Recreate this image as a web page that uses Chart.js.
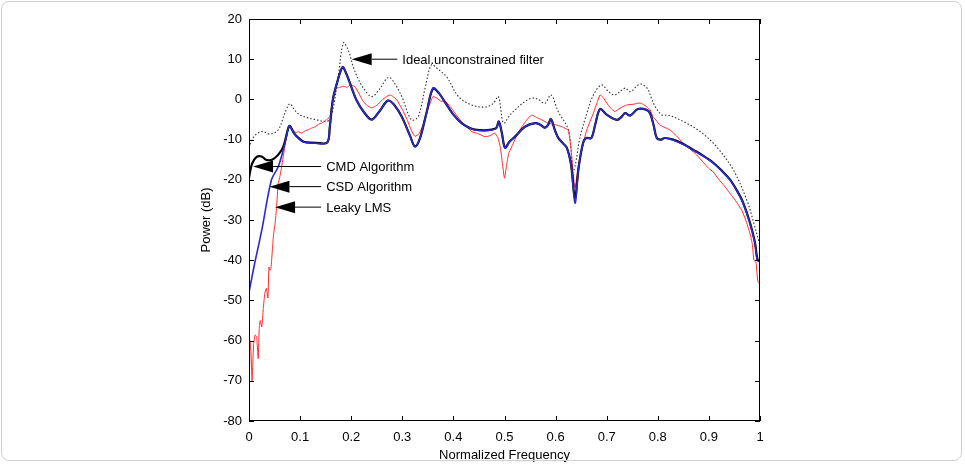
<!DOCTYPE html>
<html>
<head>
<meta charset="utf-8">
<script src="https://cdn.jsdelivr.net/npm/chart.js@4.4.1/dist/chart.umd.min.js"></script>
<style>
  body { margin: 0; background: #fff; }
  #wrap { position: relative; width: 965px; height: 464px; }
  #frame { position: absolute; left: 1px; top: 1px; width: 961px; height: 460px;
           border: 1px solid #cfcfcf; border-radius: 8px; box-sizing: border-box; pointer-events: none; }
</style>
</head>
<body>
<div id="wrap">
  <canvas id="mychart" width="965" height="464"></canvas>
  <div id="frame"></div>
</div>
<script>
// 軸の目盛
const xTicks = [0, 0.1, 0.2, 0.3, 0.4, 0.5, 0.6, 0.7, 0.8, 0.9, 1];
const yTicks = [-80, -70, -60, -50, -40, -30, -20, -10, 0, 10, 20];

// Ideal unconstrained filter (点線)
const idealF = [0, 0.01, 0.025, 0.041, 0.057, 0.07, 0.08, 0.09, 0.1, 0.115, 0.13, 0.149, 0.158, 0.165, 0.175, 0.185, 0.195, 0.204, 0.214, 0.224, 0.24, 0.255, 0.273, 0.285, 0.299, 0.318, 0.331, 0.345, 0.357, 0.37, 0.387, 0.41, 0.436, 0.462, 0.478, 0.488, 0.498, 0.51, 0.521, 0.537, 0.553, 0.566, 0.579, 0.591, 0.605, 0.625, 0.635, 0.648, 0.661, 0.674, 0.69, 0.703, 0.716, 0.736, 0.746, 0.765, 0.779, 0.787, 0.795, 0.808, 0.82, 0.85, 0.883, 0.915, 0.948, 0.974, 0.99, 0.997, 1];
const ideal = [-12, -9.2, -8, -8.6, -7.6, -3.5, -1.1, -2.8, -3.9, -4.6, -5, -5.5, -5, -2, 6, 14.1, 12, 8.1, 5, 2.8, 0.7, 2.5, 5.5, 4, 0.7, -5.1, -4.3, 3, 8.6, 7.5, 5.6, 0.7, -1.4, -1.9, -1, 0.7, -5.9, -4, -2.6, -0.8, 0.3, 0, -1, 1.1, -3, -7.6, -17.6, -9.3, -3.5, 1.1, 3.6, 2, 1.1, 2.8, 1.9, 3.8, 2.8, 0.5, -1.8, -3.9, -3.9, -5.5, -8, -11.8, -17.6, -25, -31.7, -35, -36];

// CSD Algorithm (青)
const csdF = [0, 0.01, 0.025, 0.044, 0.057, 0.067, 0.077, 0.08, 0.088, 0.096, 0.105, 0.113, 0.13, 0.153, 0.158, 0.164, 0.172, 0.183, 0.19, 0.2, 0.21, 0.225, 0.24, 0.255, 0.272, 0.285, 0.299, 0.315, 0.325, 0.335, 0.348, 0.36, 0.372, 0.383, 0.4, 0.416, 0.43, 0.442, 0.46, 0.475, 0.484, 0.489, 0.495, 0.501, 0.51, 0.521, 0.54, 0.56, 0.57, 0.579, 0.585, 0.591, 0.598, 0.605, 0.615, 0.622, 0.63, 0.638, 0.645, 0.654, 0.66, 0.67, 0.678, 0.687, 0.7, 0.72, 0.73, 0.736, 0.746, 0.761, 0.778, 0.785, 0.792, 0.798, 0.806, 0.814, 0.83, 0.85, 0.869, 0.89, 0.908, 0.925, 0.941, 0.955, 0.967, 0.98, 0.99, 0.995, 1];
const csd = [-48, -41.5, -32.5, -20, -16.8, -12.6, -7.1, -6.6, -8.5, -9.6, -10.5, -10.8, -10.9, -10.8, -7, -0.1, 4, 8.1, 6.5, 3.2, -0.1, -3.2, -5.1, -3, -0.3, -1.5, -4.3, -9, -11.8, -9.5, -3, 2.8, 1.5, -0.6, -3.8, -5.9, -7, -7.6, -7.8, -7.6, -7.2, -5.5, -8.5, -12.1, -10.5, -9.3, -6.8, -5.9, -6.3, -7.1, -6.5, -4.9, -7.5, -9.6, -11, -12.1, -16, -25.8, -17, -10.8, -9.6, -9.6, -6, -2.4, -3.8, -5.1, -4.2, -3.4, -4.1, -2.4, -2.6, -3.5, -6.5, -9.6, -10.1, -9.6, -10.1, -11.2, -12.6, -14.2, -15.8, -17.8, -20, -22.8, -25.8, -30.7, -35.7, -40, -40.5];

// CMD Algorithm (黒)
const cmdF = [0, 0.006, 0.015, 0.025, 0.033, 0.045, 0.057, 0.067, 0.077, 0.08, 0.088, 0.096, 0.105, 0.113, 0.13, 0.153, 0.158, 0.164, 0.172, 0.183, 0.19, 0.2, 0.21, 0.225, 0.24, 0.255, 0.272, 0.285, 0.299, 0.315, 0.325, 0.335, 0.348, 0.36, 0.372, 0.383, 0.4, 0.416, 0.43, 0.442, 0.46, 0.475, 0.484, 0.489, 0.495, 0.501, 0.51, 0.521, 0.54, 0.56, 0.57, 0.579, 0.585, 0.591, 0.598, 0.605, 0.615, 0.622, 0.63, 0.638, 0.645, 0.654, 0.66, 0.67, 0.678, 0.687, 0.7, 0.72, 0.73, 0.736, 0.746, 0.761, 0.778, 0.785, 0.792, 0.798, 0.806, 0.814, 0.83, 0.85, 0.869, 0.89, 0.908, 0.925, 0.941, 0.955, 0.967, 0.98, 0.99, 0.995, 1];
const cmd = [-19.5, -16, -14.3, -14.2, -15, -15, -13.8, -11.8, -7.1, -6.6, -8.4, -9.5, -10.4, -10.7, -10.8, -10.7, -7, -0.1, 4, 8, 6.5, 3.2, -0.1, -3.2, -5, -3, -0.3, -1.5, -4.3, -9, -11.7, -9.5, -3, 2.7, 1.5, -0.6, -3.8, -5.9, -7, -7.5, -7.7, -7.5, -7.1, -5.5, -8.5, -12, -10.5, -9.2, -6.8, -5.9, -6.3, -7, -6.4, -4.9, -7.4, -9.5, -11, -12, -16, -24.5, -17, -10.7, -9.6, -9.6, -6, -2.4, -3.8, -5.1, -4.2, -3.4, -4, -2.4, -2.6, -3.5, -6.5, -9.6, -10, -9.6, -10, -11.1, -12.5, -14.1, -15.7, -17.7, -19.9, -22.7, -25.7, -30.5, -35.5, -39.8, -40.3];

// Leaky LMS (赤)
const lmsF = [0, 0.002, 0.004, 0.006, 0.009, 0.012, 0.015, 0.018, 0.02, 0.022, 0.025, 0.028, 0.031, 0.034, 0.037, 0.039, 0.041, 0.043, 0.046, 0.048, 0.051, 0.054, 0.057, 0.06, 0.064, 0.07, 0.077, 0.08, 0.086, 0.092, 0.096, 0.103, 0.11, 0.117, 0.123, 0.13, 0.136, 0.142, 0.15, 0.158, 0.163, 0.168, 0.172, 0.178, 0.185, 0.192, 0.198, 0.207, 0.215, 0.222, 0.23, 0.24, 0.25, 0.26, 0.268, 0.276, 0.282, 0.289, 0.3, 0.31, 0.318, 0.325, 0.333, 0.34, 0.35, 0.36, 0.368, 0.376, 0.383, 0.395, 0.41, 0.423, 0.436, 0.45, 0.462, 0.472, 0.481, 0.487, 0.492, 0.496, 0.5, 0.504, 0.508, 0.514, 0.524, 0.534, 0.543, 0.553, 0.563, 0.573, 0.585, 0.6, 0.612, 0.62, 0.625, 0.63, 0.634, 0.638, 0.644, 0.651, 0.661, 0.674, 0.682, 0.687, 0.693, 0.7, 0.708, 0.716, 0.726, 0.739, 0.752, 0.765, 0.772, 0.778, 0.785, 0.79, 0.798, 0.804, 0.814, 0.824, 0.836, 0.849, 0.862, 0.876, 0.89, 0.9, 0.908, 0.92, 0.93, 0.941, 0.952, 0.964, 0.972, 0.98, 0.985, 0.988, 0.992, 0.996, 1];
const lms = [-78, -60, -63, -70, -61, -58.6, -59, -64.5, -57, -55, -56.6, -52, -48.2, -47, -49.4, -41.7, -42.5, -42, -37, -33.7, -31, -26.8, -21, -19.5, -16.7, -11.8, -7.1, -6.4, -7.5, -8.3, -8, -8.4, -7.8, -7.5, -7.1, -6.8, -6.2, -5.9, -5.2, -4.3, -1, 2.3, 2.8, 3, 3.3, 3, 3.6, 3.2, 1.5, -0.2, -1.4, -2.1, -1.5, -0.2, 0.6, 1.1, 0.7, -0.1, -2.5, -5.2, -7.8, -9.2, -8.5, -6.5, -2.5, 0.7, 0.3, -0.5, -0.3, -2, -4.6, -6.5, -8, -8.6, -9.3, -9, -8.4, -9.5, -12, -16, -19.6, -16.5, -13.5, -11.8, -9, -6.8, -5.2, -3.9, -4.5, -5.1, -5.9, -6.3, -6.8, -7.3, -7.6, -12, -18, -22, -17, -12.6, -7.6, -3.4, -0.5, 1.1, 0.5, -0.9, -2.2, -3, -2.2, -1.4, -1.2, -0.9, -1.3, -1.8, -2.6, -4.2, -5.4, -6.4, -7, -7.6, -9, -10.8, -12.2, -13.8, -15.8, -17.2, -18, -20, -21.5, -23.3, -25.2, -27.5, -30, -33.2, -36, -40, -40.5, -45.4, -46];

// 注釈 (矢印の先端 x,y と文字)
const notes = [
    { text: 'Ideal.unconstrained filter', x: 0.201, y: 10, tx: 0.30 },
    { text: 'CMD Algorithm', x: 0.008, y: -16.7, tx: 0.151 },
    { text: 'CSD Algorithm', x: 0.040, y: -21.7, tx: 0.151 },
    { text: 'Leaky LMS', x: 0.051, y: -26.8, tx: 0.151 },
];

const FONT = '"Liberation Sans", Arial, sans-serif';

function pts(xs, ys) {
    return xs.map((x, i) => ({ x: x, y: ys[i] }));
}

// 枠・内向き目盛・注釈
const boxPlugin = {
    id: 'box',
    afterDatasetsDraw(chart) {
        const c = chart.ctx;
        const a = chart.chartArea;
        const xs = chart.scales.x, ys = chart.scales.y;
        c.save();
        c.strokeStyle = '#000';
        c.lineWidth = 1;
        c.strokeRect(Math.round(a.left) + 0.5, Math.round(a.top) + 0.5,
            Math.round(a.right - a.left) - 1, Math.round(a.bottom - a.top) - 1);
        c.beginPath();
        xTicks.forEach(v => {
            const px = Math.round(xs.getPixelForValue(v)) + 0.5;
            c.moveTo(px, a.bottom); c.lineTo(px, a.bottom - 5);
            c.moveTo(px, a.top); c.lineTo(px, a.top + 5);
        });
        yTicks.forEach(v => {
            const py = Math.round(ys.getPixelForValue(v)) + 0.5;
            c.moveTo(a.left, py); c.lineTo(a.left + 5, py);
            c.moveTo(a.right, py); c.lineTo(a.right - 5, py);
        });
        c.stroke();

        c.font = '13px ' + FONT;
        c.fillStyle = '#000';
        c.textBaseline = 'middle';
        notes.forEach(n => {
            const px = xs.getPixelForValue(n.x);
            const py = ys.getPixelForValue(n.y);
            const tx = xs.getPixelForValue(n.tx);
            c.beginPath();
            c.moveTo(px, py);
            c.lineTo(px + 20, py - 6);
            c.lineTo(px + 20, py + 6);
            c.closePath();
            c.fill();
            c.beginPath();
            c.moveTo(px + 20, py);
            c.lineTo(tx - 5, py);
            c.stroke();
            c.fillText(n.text, tx, py + 1);
        });
        c.restore();
    }
};

const ctx = document.getElementById('mychart');

// order が小さいほど上に描かれる
const lineChart = new Chart(ctx, {
    type: 'line',
    data: {
        datasets: [
            {
                label: 'Ideal unconstrained filter',
                data: pts(idealF, ideal),
                borderColor: '#333333',
                borderWidth: 1.1,
                borderDash: [1.5, 2],
                tension: 0.35,
                order: 3,
            },
            {
                label: 'Leaky LMS',
                data: pts(lmsF, lms),
                borderColor: '#ff2a2a',
                borderWidth: 1,
                tension: 0.15,
                order: 2,
            },
            {
                label: 'CMD Algorithm',
                data: pts(cmdF, cmd),
                borderColor: '#000000',
                borderWidth: 2.2,
                tension: 0.35,
                order: 1,
            },
            {
                label: 'CSD Algorithm',
                data: pts(csdF, csd),
                borderColor: '#2a2ad0',
                borderWidth: 1.6,
                tension: 0.35,
                order: 0,
            },
        ]
    },
    options: {
        responsive: false,
        animation: false,
        events: [],
        elements: { point: { radius: 0 } },
        layout: { padding: { left: 0, right: 205, top: 19, bottom: 0 } },
        plugins: { legend: { display: false }, tooltip: { enabled: false } },
        scales: {
            x: {
                type: 'linear',
                min: 0,
                max: 1,
                afterBuildTicks: s => { s.ticks = xTicks.map(v => ({ value: v })); },
                afterFit: s => { s.height = 43; },
                grid: { display: false, drawTicks: false },
                border: { display: false },
                ticks: {
                    padding: 9,
                    color: '#000',
                    maxRotation: 0,
                    font: { family: FONT, size: 13 },
                    callback: v => String(v),
                },
                title: {
                    display: true,
                    text: 'Normalized Frequency',
                    color: '#000',
                    font: { family: FONT, size: 13 },
                    padding: { top: 0, bottom: 1 },
                },
            },
            y: {
                type: 'linear',
                min: -80,
                max: 20,
                afterBuildTicks: s => { s.ticks = yTicks.map(v => ({ value: v })); },
                afterFit: s => { s.width = 249; },
                grid: { display: false, drawTicks: false },
                border: { display: false },
                ticks: {
                    padding: 7,
                    color: '#000',
                    font: { family: FONT, size: 13 },
                    callback: v => String(v),
                },
                title: {
                    display: true,
                    text: 'Power (dB)',
                    color: '#000',
                    font: { family: FONT, size: 13 },
                    padding: { top: 199, bottom: 0 },
                },
            }
        }
    },
    plugins: [boxPlugin]
});
</script>
</body>
</html>
